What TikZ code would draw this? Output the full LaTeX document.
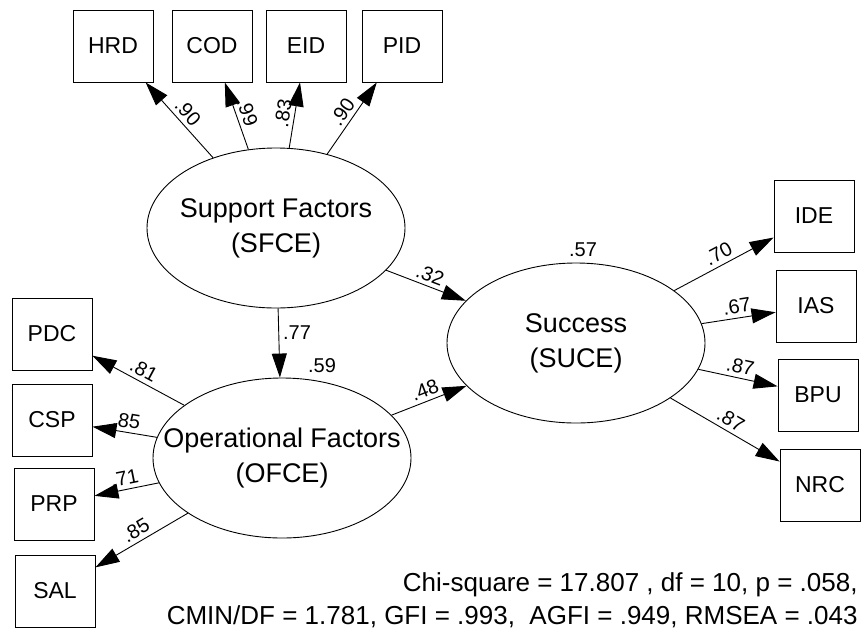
\documentclass[tikz,border=0pt]{standalone}
\usepackage{fontspec}
\setmainfont{Liberation Sans}
\usetikzlibrary{arrows.meta, shapes.geometric}

\tikzset{
	latent/.style={draw,ellipse,minimum width=258pt,minimum height=160pt,inner sep=0pt,
		label={[align=center,font=\fontsize{27}{35}\selectfont]center:#1}},
	observed/.style={draw,rectangle,minimum width=80pt,minimum height=72pt,inner sep=0pt,
		font=\fontsize{23}{27}\selectfont},
	effect/.style={-{Triangle[length=24pt,width=15pt]},line width=0.9pt},
	coef/.style={font=\fontsize{20}{24}\selectfont,inner sep=4pt},
}

\begin{document}
\begin{tikzpicture}[x=1pt,y=-1pt,line width=0.9pt]
		\useasboundingbox (0,0) rectangle (861,630);
	
		\node[latent={Support Factors\\(SFCE)}] (SFCE) at (276,228) {};
		\node[latent={Operational Factors\\(OFCE)}] (OFCE) at (282,458) {};
		\node[latent={Success\\(SUCE)}] (SUCE) at (576,343) {};
	
		\node[observed] (HRD) at (113,46) {HRD};
		\node[observed] (COD) at (212,46) {COD};
		\node[observed] (EID) at (306,46) {EID};
		\node[observed] (PID) at (402,46) {PID};
	
		\node[observed] (PDC) at (52,334) {PDC};
		\node[observed] (CSP) at (52,420) {CSP};
		\node[observed] (PRP) at (54,504) {PRP};
		\node[observed] (SAL) at (55,591) {SAL};
	
		\node[observed] (IDE) at (814,216) {IDE};
		\node[observed] (IAS) at (816,306) {IAS};
		\node[observed] (BPU) at (818,395) {BPU};
		\node[observed] (NRC) at (820,485) {NRC};
	
		\begin{scope}[every node/.style={coef,midway,above,sloped}]
			\draw[effect] (SFCE) -- node {.90} (HRD);
			\draw[effect] (SFCE) -- node {.99} (COD);
			\draw[effect] (SFCE) -- node {.83} (EID);
			\draw[effect] (SFCE) -- node {.90} (PID);
	
			\draw[effect] (OFCE) -- node {.81} (PDC);
			\draw[effect] (OFCE) -- node {.85} (CSP);
			\draw[effect] (OFCE) -- node {.71} (PRP);
			\draw[effect] (OFCE) -- node {.85} (SAL);
	
			\draw[effect] (SUCE) -- node {.70} (IDE);
			\draw[effect] (SUCE) -- node {.67} (IAS);
			\draw[effect] (SUCE) -- node {.87} (BPU);
			\draw[effect] (SUCE) -- node {.87} (NRC);
	
			\draw[effect] (SFCE) -- node {.32} (SUCE);
			\draw[effect] (OFCE) -- node {.48} (SUCE);
		\end{scope}
		\draw[effect] (SFCE) -- node[coef,pos=0.35,right] {.77} (OFCE);
	
		% squared multiple correlations
		\node[coef] (r2OFCE) at (322,366) {.59};
		\node[coef] (r2SUCE) at (583,250) {.57};
	
		\node[anchor=south east,inner sep=0pt,align=right,font=\fontsize{26}{33}\selectfont] (fit) at (858,628)
			{Chi-square = 17.807 , df = 10, p = .058,\\CMIN/DF = 1.781, GFI = .993,\ \ AGFI = .949, RMSEA = .043};
	\end{tikzpicture}
\end{document}
